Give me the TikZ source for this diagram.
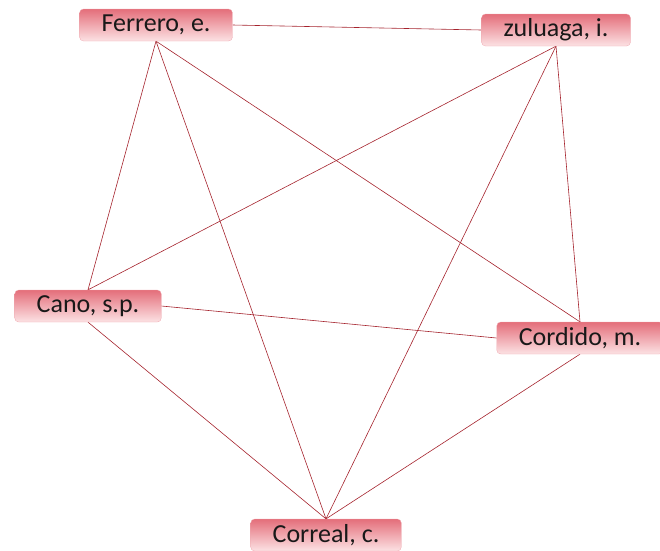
\documentclass[tikz,border=0pt]{standalone}
\usepackage{fontspec}
\setmainfont{Carlito}
\usetikzlibrary{calc,backgrounds}
\definecolor{linkred}{RGB}{165,35,45}
\definecolor{boxtop}{RGB}{228,110,122}
\definecolor{boxbottom}{RGB}{252,226,228}
\newcommand{\linkwidth}{0.6pt}
\tikzset{author/.style={rectangle, rounded corners=4pt, top color=boxtop, bottom color=boxbottom,
  draw=boxtop!60, line width=0.3pt, inner xsep=22pt, minimum height=32pt,
  font=\fontsize{26}{30}\selectfont, text=black!90}}

\begin{document}
\begin{tikzpicture}[x=1pt, y=-1pt]
\useasboundingbox (0,0) rectangle (660,550);
\node[author] (1) at (156, 25) {Ferrero, e.};
\node[author] (2) at (556, 30) {zuluaga, i.};
\node[author] (3) at (88, 306) {Cano, s.p.};
\node[author] (4) at (580, 338) {Cordido, m.};
\node[author] (5) at (326, 535) {Correal, c.};
%links
\begin{scope}[on background layer]
\draw[linkred] [line width = \linkwidth] (1.east) -- (2.west);
\draw[linkred] [line width = \linkwidth] (1.south) -- (3.north);
\draw[linkred] [line width = \linkwidth] (1.south) -- (4.north);
\draw[linkred] [line width = \linkwidth] (1.south) -- (5.north);
\draw[linkred] [line width = \linkwidth] (2.south) -- (3.north);
\draw[linkred] [line width = \linkwidth] (2.south) -- (4.north);
\draw[linkred] [line width = \linkwidth] (2.south) -- (5.north);
\draw[linkred] [line width = \linkwidth] (3.east) -- (4.west);
\draw[linkred] [line width = \linkwidth] (3.south) -- (5.north);
\draw[linkred] [line width = \linkwidth] (4.south) -- (5.north);
\end{scope}
\end{tikzpicture}
\end{document}
